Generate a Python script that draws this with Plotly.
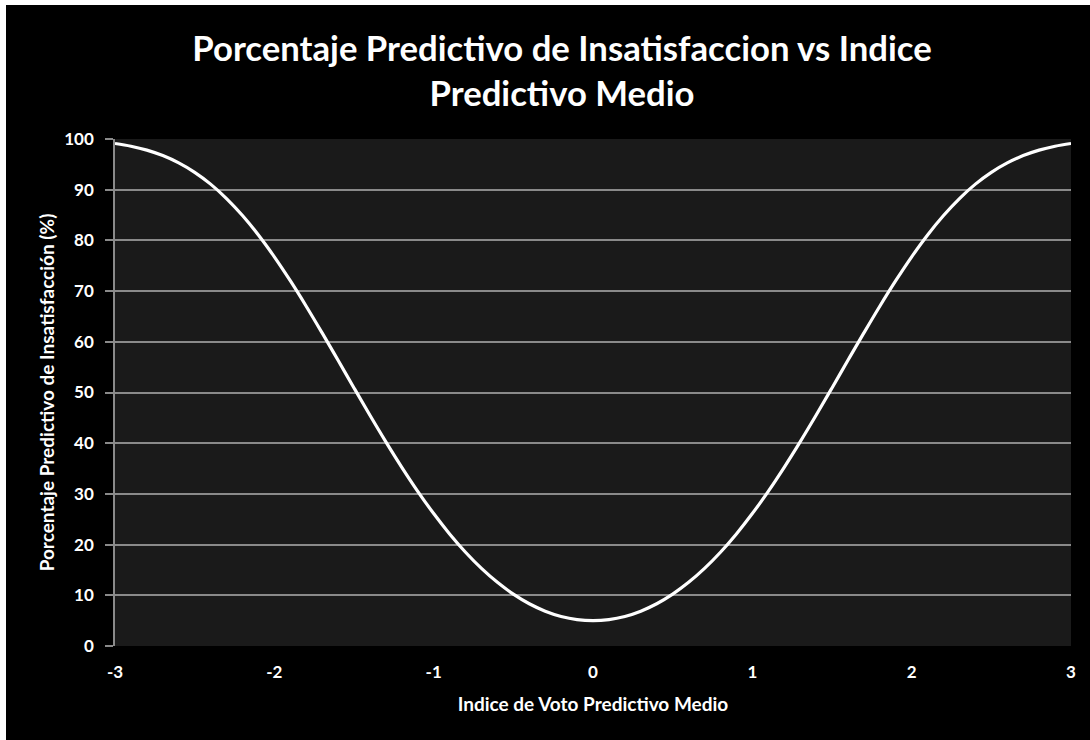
import plotly.graph_objects as go

# Data (PMV vs PPD)
pmv = [round(-3 + 0.1 * i, 1) for i in range(61)]
ppd_half = [5.00, 5.21, 5.83, 6.87, 8.33, 10.23, 12.55, 15.30, 18.49, 22.10,
            26.12, 30.51, 35.25, 40.27, 45.51, 50.90, 56.35, 61.75, 67.02, 72.05,
            76.76, 81.07, 84.91, 88.26, 91.10, 93.43, 95.29, 96.73, 97.81, 98.58, 99.12]
ppd = ppd_half[::-1] + ppd_half[1:]

x_ticks = [-3, -2, -1, 0, 1, 2, 3]
y_ticks = [0, 10, 20, 30, 40, 50, 60, 70, 80, 90, 100]

title_text = "Porcentaje Predictivo de Insatisfaccion vs Indice<br>Predictivo Medio"
x_title = "Indice de Voto Predictivo Medio"
y_title = "Porcentaje Predictivo de Insatisfacción (%)"

FONT = "Lato"

fig = go.Figure()
fig.add_trace(go.Scatter(x=pmv, y=ppd, mode="lines",
                         line=dict(color="white", width=3.2, shape="spline"),
                         hoverinfo="skip", showlegend=False))

L, R, T, B = 115, 19, 139, 94
W, H = 1090, 740
pw = W - L - R
ph = H - T - B

def px2x(px):
    return (px - L) / pw

def py2y(py):
    return (H - B - py) / ph

fig.update_layout(
    width=W, height=H,
    margin=dict(l=L, r=R, t=T, b=B),
    paper_bgcolor="black",
    plot_bgcolor="#1a1a1a",
    title=dict(text=title_text, x=562 / W, xanchor="center", xref="container",
               y=1 - 61 / H, yanchor="middle", yref="container",
               font=dict(family=FONT, size=34.7, color="white", weight="bold")),
    xaxis=dict(range=[-3, 3], tickvals=x_ticks, ticktext=[str(v) for v in x_ticks],
               showgrid=False, zeroline=False, showline=False, ticks="",
               ticklabelstandoff=14,
               tickfont=dict(family=FONT, size=17, color="white", weight="bold"),
               title=dict(text=x_title, standoff=16,
                          font=dict(family=FONT, size=19, color="white", weight="bold"))),
    yaxis=dict(range=[0, 100], tickvals=y_ticks, ticktext=[str(v) for v in y_ticks],
               showgrid=True, gridcolor="#8a8a8a", gridwidth=1.5, zeroline=False,
               showline=True, linecolor="#8a8a8a", linewidth=1.5,
               ticks="outside", ticklen=8, tickcolor="#8a8a8a", tickwidth=1.5,
               ticklabelstandoff=8,
               tickfont=dict(family=FONT, size=17, color="white", weight="bold"),
               title=dict(text=y_title, standoff=5,
                          font=dict(family=FONT, size=19, color="white", weight="bold"))),
    shapes=[
        dict(type="rect", xref="paper", yref="paper",
             x0=px2x(0), x1=px2x(6), y0=py2y(H), y1=py2y(0),
             fillcolor="white", line=dict(width=0), layer="above"),
        dict(type="rect", xref="paper", yref="paper",
             x0=px2x(0), x1=px2x(W), y0=py2y(5), y1=py2y(0),
             fillcolor="white", line=dict(width=0), layer="above"),
    ],
)

fig.write_html("out.html", config={"displayModeBar": False},
               post_script="document.body.style.margin='0';document.body.style.background='black';")
